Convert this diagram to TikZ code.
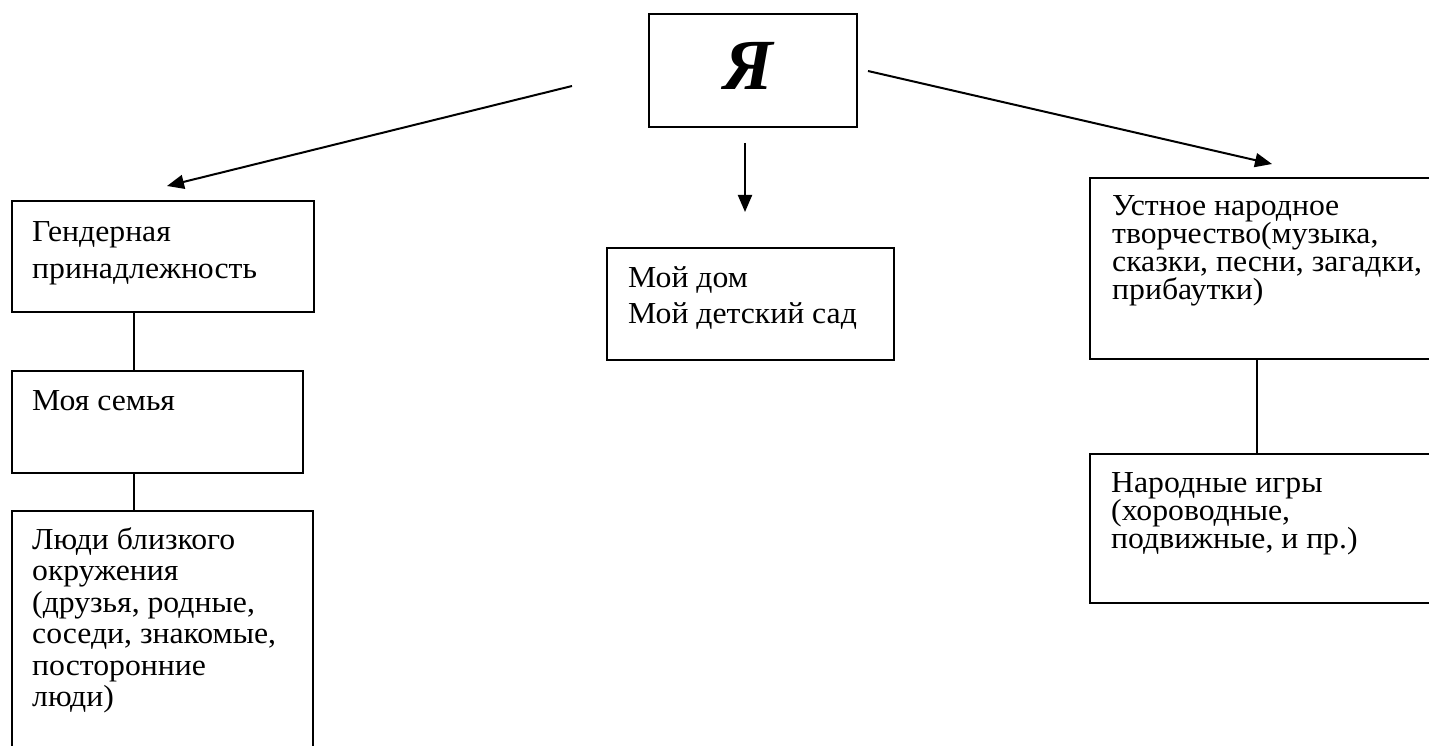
\documentclass[tikz,border=0pt]{standalone}
\usepackage{fontspec}
\setmainfont[FakeStretch=1.04]{Liberation Serif}
\newfontfamily\yafont{Liberation Serif}
\usetikzlibrary{arrows.meta}
\tikzset{
  box/.style={draw, line width=2pt, rectangle, inner sep=0pt, anchor=north west},
  txt/.style={inner sep=0pt, anchor=base west, align=left, font=\fontsize{30.5}{#1}\selectfont},
  txt/.default=31,
  arr/.style={line width=2pt, -{Triangle[length=17pt,width=14pt]}},
  lnk/.style={line width=2pt}
}
\begin{document}
\begin{tikzpicture}[x=1pt,y=-1pt]
\useasboundingbox (0,0) rectangle (1429,746);
\clip (0,0) rectangle (1429,746);
% boxes
\node[box, minimum width=208pt, minimum height=113pt] (ya) at (648,13) {};
\node[font=\yafont\fontsize{72}{72}\selectfont\bfseries\itshape, inner sep=0pt] (yat) at (748,66) {Я};
\node[box, minimum width=302pt, minimum height=111pt] (g) at (11,200) {};
\node[box, minimum width=291pt, minimum height=102pt] (f) at (11,370) {};
\node[box, minimum width=301pt, minimum height=260pt] (p) at (11,510) {};
\node[box, minimum width=287pt, minimum height=112pt] (h) at (606,247) {};
\node[box, minimum width=360pt, minimum height=181pt] (u) at (1089,177) {};
\node[box, minimum width=360pt, minimum height=149pt] (n) at (1089,453) {};
% texts (anchor at the baseline of the last line)
\node[txt=37] (gt) at (32,278) {Гендерная\\принадлежность};
\node[txt] (ft) at (32,410) {Моя семья};
\node[txt=31.5] (pt) at (32,706.5) {Люди близкого\\окружения\\(друзья, родные,\\соседи, знакомые,\\посторонние\\люди)};
\node[txt=36] (ht) at (628,323) {Мой дом\\Мой детский сад};
\node[txt=28] (ut) at (1112,299) {Устное народное\\творчество(музыка,\\сказки, песни, загадки,\\прибаутки)};
\node[txt=28] (nt) at (1111,548) {Народные игры\\(хороводные,\\подвижные, и пр.)};
% arrows
\coordinate (la) at (572,86);
\coordinate (ra) at (868,71);
\coordinate (ma) at (745,143);
\coordinate (lt) at (167,186);
\coordinate (rt) at (1272,164);
\coordinate (mt) at (745,212);
\draw[arr] (la) -- (lt);
\draw[arr] (ra) -- (rt);
\draw[arr] (ma) -- (mt);
% links
\draw[lnk] ([xshift=123pt]g.south west) -- ([xshift=123pt]f.north west);
\draw[lnk] ([xshift=123pt]f.south west) -- ([xshift=123pt]p.north west);
\draw[lnk] ([xshift=168pt]u.south west) -- ([xshift=168pt]n.north west);
\end{tikzpicture}
\end{document}
